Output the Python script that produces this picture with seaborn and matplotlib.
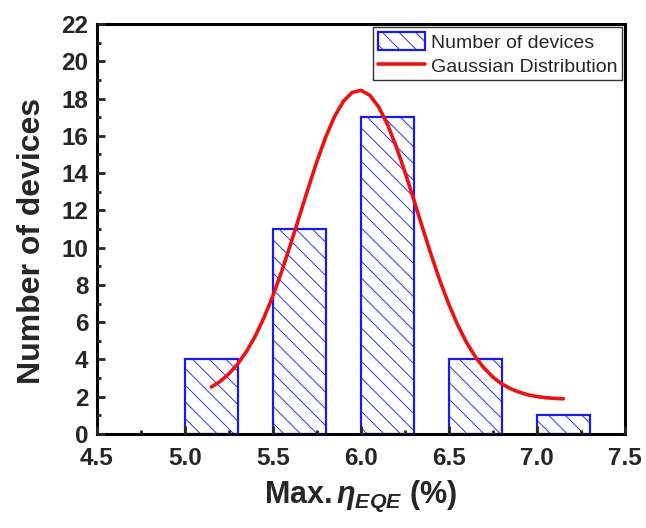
import matplotlib

matplotlib.use("Agg")
import matplotlib.pyplot as plt  # noqa: E402
import numpy as np  # noqa: E402
import seaborn as sns  # noqa: E402
from matplotlib.ticker import FormatStrFormatter, MultipleLocator  # noqa: E402

# histogram of max EQE per device (bin lower edges, counts)
bin_left = [5.0, 5.5, 6.0, 6.5, 7.0]
device_counts = [4, 11, 17, 4, 1]
bin_width = 0.3

# gaussian fit curve
curve_x = [5.15, 5.20, 5.25, 5.30, 5.35, 5.40, 5.45, 5.50, 5.55, 5.60, 5.65,
           5.70, 5.75, 5.80, 5.85, 5.90, 5.95, 6.00, 6.05, 6.10, 6.15, 6.20,
           6.25, 6.30, 6.35, 6.40, 6.45, 6.50, 6.55, 6.60, 6.65, 6.70, 6.75,
           6.80, 6.85, 6.90, 6.95, 7.00, 7.05, 7.10, 7.15]
curve_y = [2.52, 2.82, 3.23, 3.76, 4.43, 5.26, 6.26, 7.42, 8.74, 10.17, 11.67,
           13.18, 14.63, 15.94, 17.04, 17.85, 18.33, 18.44, 18.18, 17.56, 16.63,
           15.43, 14.06, 12.58, 11.06, 9.58, 8.19, 6.94, 5.84, 4.91, 4.14, 3.53,
           3.05, 2.69, 2.43, 2.24, 2.10, 2.01, 1.95, 1.91, 1.89]

sns.set_theme(style="ticks")
plt.rcParams["font.family"] = ["Liberation Sans", "DejaVu Sans"]
plt.rcParams["mathtext.fontset"] = "custom"
plt.rcParams["mathtext.it"] = "Liberation Sans:italic:bold"
plt.rcParams["mathtext.rm"] = "Liberation Sans:bold"
plt.rcParams["hatch.linewidth"] = 0.6

fig = plt.figure(figsize=(6.46, 5.28), dpi=100)
ax = fig.add_axes([0.150, 0.178, 0.8175, 0.7765])

centers = np.asarray(bin_left) + bin_width / 2
sns.barplot(
    x=centers,
    y=device_counts,
    native_scale=True,
    width=bin_width / 0.5,
    color="white",
    saturation=1,
    edgecolor="#1a1aee",
    linewidth=1.6,
    hatch="\\\\",
    label="Number of devices",
    ax=ax,
)
sns.lineplot(x=curve_x, y=curve_y, color="#ee1111", linewidth=2.6,
             label="Gaussian Distribution", ax=ax)

ax.set_axisbelow(False)
ax.set_xlim(4.5, 7.5)
ax.set_ylim(0, 22)
ax.xaxis.set_major_locator(MultipleLocator(0.5))
ax.xaxis.set_minor_locator(MultipleLocator(0.25))
ax.yaxis.set_major_locator(MultipleLocator(2))
ax.yaxis.set_minor_locator(MultipleLocator(1))
ax.xaxis.set_major_formatter(FormatStrFormatter("%.1f"))
ax.tick_params(which="both", direction="in", width=2, top=False, right=False,
               labelsize=17.5)
ax.tick_params(axis="x", which="major", length=6, pad=9)
ax.tick_params(axis="y", which="major", length=6, pad=6)
ax.tick_params(which="minor", length=3)
for lab in ax.get_xticklabels() + ax.get_yticklabels():
    lab.set_fontweight("bold")
for side in ax.spines.values():
    side.set_linewidth(2.2)
    side.set_color("black")

ax.set_xlabel(r"Max.$\,\eta_{EQE}$ (%)", fontsize=22, fontweight="bold", labelpad=7)
ax.set_ylabel("Number of devices", fontsize=23, fontweight="bold")
ax.yaxis.set_label_coords(-0.094, 0.47)

handles, labels = ax.get_legend_handles_labels()
order = [labels.index("Number of devices"), labels.index("Gaussian Distribution")]
leg = ax.legend([handles[i] for i in order], [labels[i] for i in order],
                loc="upper right", fontsize=14, frameon=True, fancybox=False,
                edgecolor="black", borderaxespad=0.15, handlelength=2.4,
                handleheight=1.1, handletextpad=0.3, borderpad=0.25,
                labelspacing=0.2)
leg.get_frame().set_linewidth(1.0)

fig.savefig("out.png", dpi=100)
